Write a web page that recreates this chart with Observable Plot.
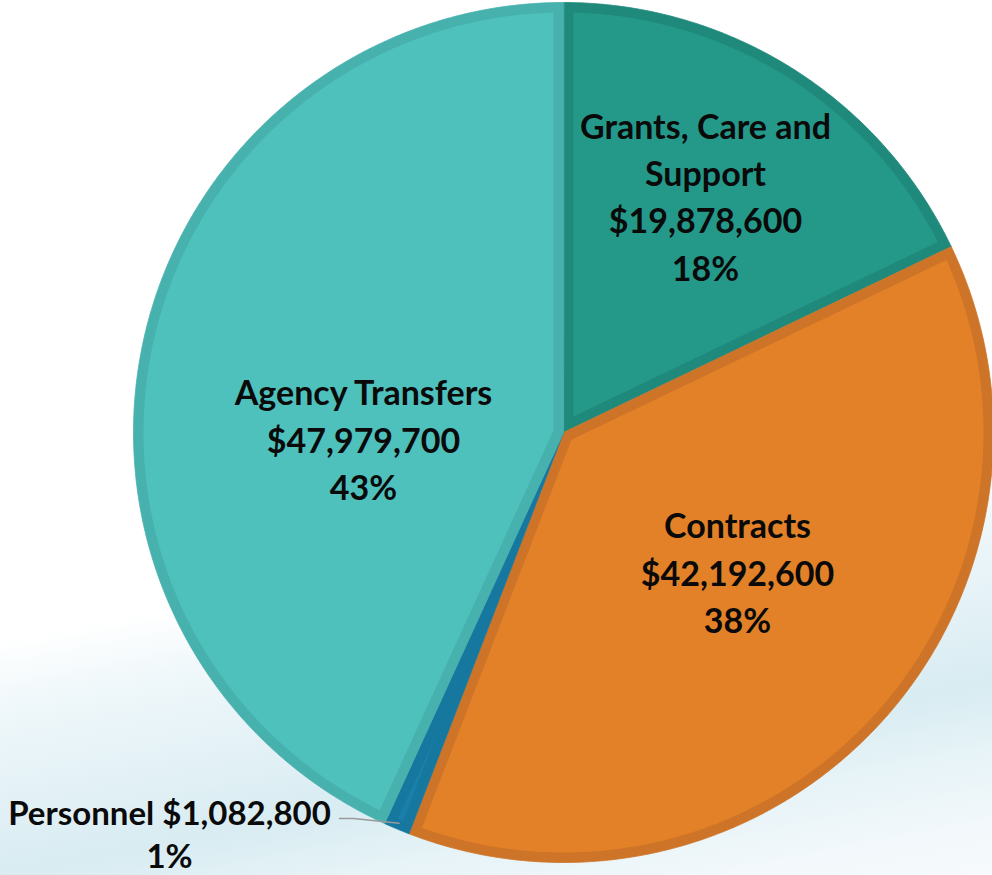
<!DOCTYPE html>
<html>
<head>
<meta charset="utf-8">
<script src="https://cdn.jsdelivr.net/npm/d3@7"></script>
<script src="https://cdn.jsdelivr.net/npm/@observablehq/plot@0.6"></script>
<style>
  html, body { margin: 0; padding: 0; }
  body {
    width: 992px; height: 875px; overflow: hidden;
    background:
      linear-gradient(169deg, rgba(255,255,255,1) 0%, rgba(255,255,255,1) 60%, #eef7fa 67%, #e3f1f6 75%, #d8ecf2 82%, #e6f3f7 88%, #f2f8fb 95%, #f6fafc 100%);
  }
  #chart svg { display: block; }
</style>
</head>
<body>
<div id="chart"></div>
<script>
// ---- data ----
const categories = ["Grants, Care and Support", "Contracts", "Personnel", "Agency Transfers"];
const amounts = [19878600, 42192600, 1082800, 47979700];
const labelText = ["Grants, Care and\nSupport", "Contracts", "Personnel", "Agency Transfers"];

// ---- styles / layout ----
const fillColors = ["#24998A", "#E28127", "#1A80AA", "#4FC1BD"];
const borderColors = ["#1F8A7B", "#CE7428", "#16789F", "#47B1AE"];
const W = 992, H = 875;
const cx = 563, cy = 432, R = 430, inset = 10;
// label anchor points (pixel coordinates)
const labelAnchors = [
  {x: 705, y: 194},
  {x: 737, y: 570},
  {x: 169, y: 832},
  {x: 363, y: 437}
];

const total = d3.sum(amounts);
const arcs = d3.pie().sort(null).value(d => d)(amounts);
const pt = (a, r) => ({x: cx + r * Math.sin(a), y: cy - r * Math.cos(a)});

const outer = [], inner = [];
arcs.forEach((a, i) => {
  const a0 = a.startAngle, a1 = a.endAngle, th = a1 - a0;
  // full sector
  outer.push({k: i, c: borderColors[i], ...pt(0, 0)});
  const n = Math.max(4, Math.ceil(th * 120));
  for (let j = 0; j <= n; j++) outer.push({k: i, c: borderColors[i], ...pt(a0 + th * j / n, R)});
  // inset sector
  const Ri = R - inset;
  const apexR = inset / Math.sin(th / 2);
  const mid = (a0 + a1) / 2;
  inner.push({k: i, c: fillColors[i], ...pt(mid, apexR)});
  const delta = Math.asin(inset / Ri);
  const b0 = a0 + delta, b1 = a1 - delta;
  for (let j = 0; j <= n; j++) inner.push({k: i, c: fillColors[i], ...pt(b0 + (b1 - b0) * j / n, Ri)});
});

const fmt = d3.format("$,");
const labels = categories.map((c, i) => ({
  x: labelAnchors[i].x,
  y: labelAnchors[i].y,
  text: labelText[i] + (i === 2 ? " " : "\n") + fmt(amounts[i]) + "\n" + Math.round(amounts[i] / total * 100) + "%"
}));
const mainLabels = labels.filter((d, i) => i !== 2);
const sideLabels = labels.filter((d, i) => i === 2);

// leader line for Personnel (from label to slice edge)
const pMid = (arcs[2].startAngle + arcs[2].endAngle) / 2;
const pEdge = pt(pMid, R - 6);
const leader = [{x: 339, y: 818}, {x: 353, y: 818}, {x: pEdge.x, y: pEdge.y}];

const chart = Plot.plot({
  width: W, height: H,
  margin: 0,
  x: {domain: [0, W], range: [0, W], axis: null},
  y: {domain: [0, H], range: [0, H], axis: null},
  color: {type: "identity"},
  style: {background: "transparent"},
  marks: [
    Plot.line(outer, {x: "x", y: "y", z: "k", fill: "c", stroke: "c", strokeWidth: 0.8, curve: "linear-closed"}),
    Plot.line(inner, {x: "x", y: "y", z: "k", fill: "c", stroke: "none", curve: "linear-closed"}),
    Plot.line(leader, {x: "x", y: "y", stroke: "#9a9a9a", strokeWidth: 1.5}),
    Plot.text(mainLabels, {x: "x", y: "y", text: "text", fontSize: 34, fontWeight: "bold", fontFamily: "Lato", lineHeight: 1.39, fill: "#0a0a0a", textAnchor: "middle", lineAnchor: "middle"}),
    Plot.text(sideLabels, {x: "x", y: "y", text: "text", fontSize: 33, fontWeight: "bold", fontFamily: "Lato", lineHeight: 1.3, fill: "#0a0a0a", textAnchor: "middle", lineAnchor: "middle"})
  ]
});
document.getElementById("chart").append(chart);
</script>
</body>
</html>
